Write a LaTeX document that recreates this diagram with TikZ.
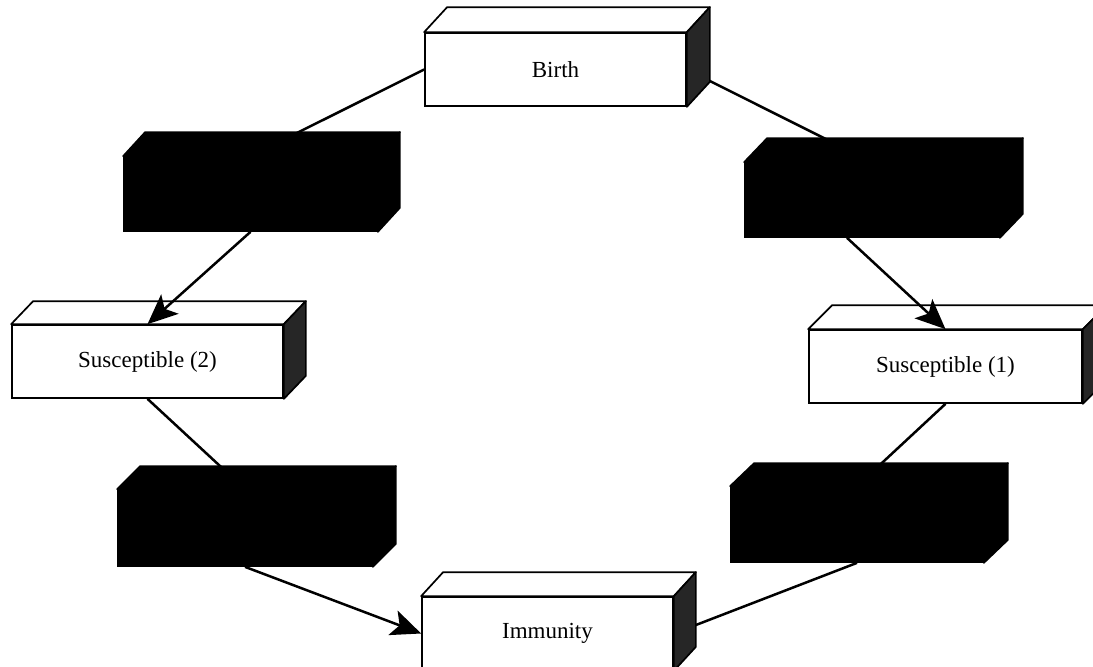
\documentclass[tikz,border=0pt]{standalone}
\usepackage{fontspec}
\setmainfont{Liberation Serif}
\usetikzlibrary{calc,arrows.meta}
\pgfdeclarelayer{bg}
\pgfsetlayers{bg,main}
\tikzset{
  x=1pt, y=-1pt,
  front/.style={rectangle, draw=black, line width=1.7pt, fill=white, inner sep=0pt,
    font=\fontsize{23}{27}\selectfont},
  blackfront/.style={rectangle, draw=black, line width=1.7pt, fill=black, inner sep=0pt},
  topface/.style={draw=black, line width=1.7pt, fill=white, line join=round},
  sideface/.style={draw=black, line width=1.7pt, fill=black!85, line join=round},
  blackface/.style={draw=black, line width=1.7pt, fill=black, line join=round},
  conn/.style={draw=black, line width=2.5pt},
  arr/.style={conn, -{Stealth[length=30pt, width=26pt, inset=7pt]}},
}
\newcommand\depthfaces[5]{%
  \path[#4] (#1.north west) -- ++(#2,-#3) -- ($(#1.north east)+(#2,-#3)$) -- (#1.north east) -- cycle;
  \path[#5] (#1.north east) -- ++(#2,-#3) -- ($(#1.south east)+(#2,-#3)$) -- (#1.south east) -- cycle;}
\begin{document}
\begin{tikzpicture}
\useasboundingbox (0,0) rectangle (1093,667);
\clip (0,0) rectangle (1093,667);

% white boxes
\node[front, minimum width=261pt, minimum height=73pt] (birth) at (555.5,69.5) {Birth};
\depthfaces{birth}{23}{25}{topface}{sideface}
\node[front, minimum width=271pt, minimum height=73pt] (s2) at (147.5,361.5) {Susceptible (2)};
\depthfaces{s2}{22}{23}{topface}{sideface}
\node[front, minimum width=273pt, minimum height=73pt] (s1) at (945.5,366.5) {Susceptible (1)};
\depthfaces{s1}{24}{24}{topface}{sideface}
\node[front, minimum width=251pt, minimum height=73pt] (imm) at (547.5,633.5) {Immunity};
\depthfaces{imm}{22}{24}{topface}{sideface}

% black boxes
\node[blackfront, minimum width=253pt, minimum height=74pt] (b1) at (250.5,194) {};
\depthfaces{b1}{22}{24}{blackface}{blackface}
\node[blackfront, minimum width=254pt, minimum height=74pt] (b2) at (872,200) {};
\depthfaces{b2}{23}{24}{blackface}{blackface}
\node[blackfront, minimum width=254pt, minimum height=76pt] (b3) at (245,528) {};
\depthfaces{b3}{23}{23}{blackface}{blackface}
\node[blackfront, minimum width=252pt, minimum height=75pt] (b4) at (857,524.5) {};
\depthfaces{b4}{24}{23}{blackface}{blackface}

\coordinate (b2out) at ($(b2.south)+(-25,0)$);

% plain connectors, behind the boxes
\begin{pgfonlayer}{bg}
\fill[white] (0,0) rectangle (1093,667);
\draw[conn] (birth.west) -- (b1.north);
\draw[conn] (birth.east) -- (b2.north);
\draw[conn] (s2.south) -- (b3.north);
\draw[conn] (imm.east) -- (b4.south);
\draw[conn] (b4.north) -- (s1.south);
\end{pgfonlayer}

% arrows, over the top faces
\draw[arr] (b1.south) -- (s2.north);
\draw[arr] (b2out) -- (s1.north);
\draw[arr] (b3.south) -- (imm.west);
\end{tikzpicture}
\end{document}
